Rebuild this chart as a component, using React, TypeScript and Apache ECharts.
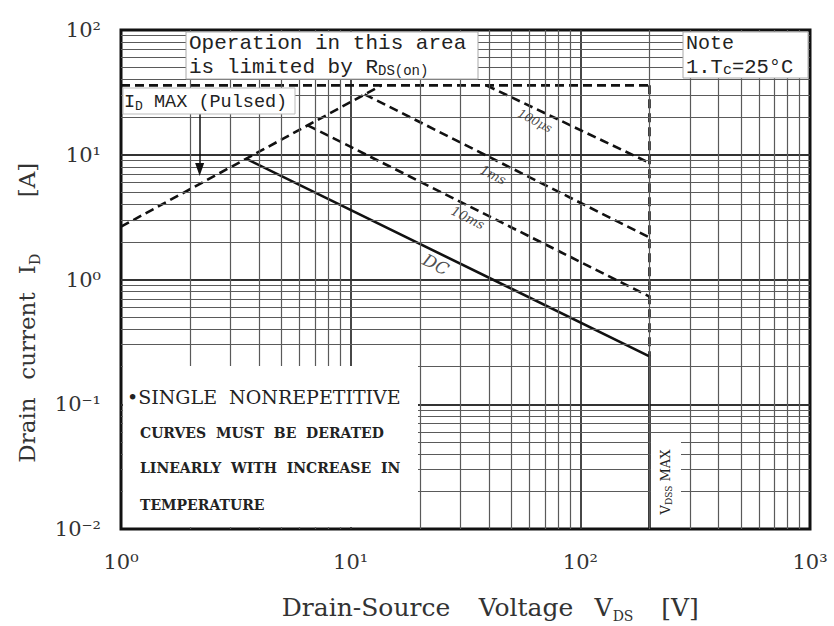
import React, { useEffect, useRef } from 'react';
import * as echarts from 'echarts';

// ---- axis ranges / ticks ----
const xRange = [1, 1000];
const yRange = [0.01, 100];
const xDecades = [1, 10, 100];
const yDecades = [0.01, 0.1, 1, 10];
const minorSteps = [2, 3, 4, 5, 6, 7, 8, 9];

// ---- SOA curves (VDS [V], ID [A]) ----
const rdsOnLimit = [[1, 2.65], [13.6, 36]];
const idMaxPulsed = [[1, 36], [200, 36]];
const vdssDashed = [[200, 36], [200, 0.242]];
const line100us = [[39, 36], [200, 8.6]];
const line1ms = [[11.5, 30.5], [200, 2.17]];
const line10ms = [[6.5, 17.2], [200, 0.73]];
const lineDC = [[3.5, 9.3], [200, 0.242], [200, 0.01]];

// ---- curve labels ----
const curveLabelNames = ['100μs', '1ms', '10ms', 'DC'];
const curveLabelPos = [[63.4, 18.7], [41.7, 6.9], [32.4, 3.13], [23.5, 1.32]];
const curveLabelSizes = [12, 13, 13, 17];

// ---- ID MAX (Pulsed) arrow ----
const arrowPoints = [[2.2, 21.7], [2.2, 7.6]];

const SUP: Record<string, string> = { '0': '⁰', '1': '¹', '2': '²', '3': '³', '-': '⁻' };
const fmtPow = (v: number) => {
  const e = Math.round(Math.log10(v));
  return '10' + String(e).split('').map((c) => SUP[c] || c).join('');
};

const minorValues = (decades: number[]) => {
  const out: number[] = [];
  decades.forEach((d) => minorSteps.forEach((m) => out.push(Number((m * d).toPrecision(3)))));
  return out;
};

const SERIF = '"DejaVu Serif", serif';
const MONO = '"Liberation Mono", monospace';
const NB = '\u00A0';

const word = (text: string, x: number, y: number, size: number, rot = 0, align = 'center') => ({
  type: 'text', z: 101, x, y, rotation: rot,
  style: { text, font: `${size}px ${SERIF}`, fill: '#333', align, verticalAlign: 'middle' },
});

const subWord = (main: string, sub: string, x: number, y: number, size: number, subSize: number, rot = 0) => ({
  type: 'text', z: 101, x, y, rotation: rot,
  style: {
    text: `{m|${main}}{s|${sub}}`,
    align: 'center', verticalAlign: 'middle',
    rich: {
      m: { fontFamily: SERIF, fontSize: size, fill: '#333', lineHeight: size + 6 },
      s: { fontFamily: SERIF, fontSize: subSize, fill: '#333', lineHeight: size + 6, verticalAlign: 'bottom' },
    },
  },
});

export default function App() {
  const ref = useRef<HTMLDivElement>(null);
  useEffect(() => {
    if (!ref.current) return;
    const chart = echarts.init(ref.current, null, { renderer: 'svg' });
    const dashed = (data: number[][]) => ({
      type: 'line',
      data,
      symbol: 'none',
      silent: true,
      z: 3,
      lineStyle: { color: '#111', width: 2.6, type: [9, 5] },
    });
    const option: any = {
      animation: false,
      backgroundColor: '#fff',
      grid: {
        left: 121,
        top: 30,
        right: 24,
        bottom: 97,
        show: true,
        borderColor: '#111',
        borderWidth: 3,
        backgroundColor: '#fff',
        containLabel: false,
      },
      xAxis: {
        type: 'log',
        logBase: 10,
        min: xRange[0],
        max: xRange[1],
        axisLine: { show: false },
        axisTick: { show: false },
        axisLabel: {
          margin: 22,
          formatter: fmtPow,
          fontFamily: SERIF,
          fontSize: 21,
          color: '#333',
          showMinLabel: true,
          showMaxLabel: true,
        },
        splitLine: { show: true, showMinLine: false, showMaxLine: false, lineStyle: { color: '#333', width: 1.8 } },
      },
      yAxis: {
        type: 'log',
        logBase: 10,
        min: yRange[0],
        max: yRange[1],
        axisLine: { show: false },
        axisTick: { show: false },
        axisLabel: {
          margin: 20,
          formatter: fmtPow,
          fontFamily: SERIF,
          fontSize: 21,
          color: '#333',
          showMinLabel: true,
          showMaxLabel: true,
        },
        splitLine: { show: true, showMinLine: false, showMaxLine: false, lineStyle: { color: '#333', width: 1.8 } },
      },
      series: [
        {
          type: 'line',
          data: [[1, 0.01]],
          symbol: 'none',
          silent: true,
          z: 1,
          lineStyle: { width: 0 },
          markLine: {
            silent: true,
            symbol: ['none', 'none'],
            label: { show: false },
            emphasis: { disabled: true },
            lineStyle: { color: '#5a5a5a', width: 1.2, type: 'solid' },
            data: [
              ...minorValues(xDecades).map((v) => ({ xAxis: v })),
              ...minorValues(yDecades).map((v) => ({ yAxis: v })),
            ],
          },
        },
        dashed(rdsOnLimit),
        dashed(idMaxPulsed),
        dashed(vdssDashed),
        dashed(line100us),
        dashed(line1ms),
        dashed(line10ms),
        {
          type: 'line',
          data: lineDC,
          symbol: 'none',
          silent: true,
          z: 3,
          lineStyle: { color: '#111', width: 2.6, type: 'solid' },
        },
        {
          type: 'line',
          data: [[1, 0.01]],
          symbol: 'none',
          silent: true,
          z: 4,
          lineStyle: { width: 0 },
          markLine: {
            silent: true,
            symbol: ['none', 'triangle'],
            symbolSize: [9, 13],
            label: { show: false },
            emphasis: { disabled: true },
            lineStyle: { color: '#111', width: 1.5, type: 'solid' },
            data: [[{ coord: arrowPoints[0] }, { coord: arrowPoints[1] }]],
          },
        },
        {
          type: 'scatter',
          silent: true,
          z: 5,
          symbolSize: 0.1,
          itemStyle: { color: 'transparent' },
          label: {
            show: true,
            position: 'inside',
            formatter: '{b}',
            rotate: -27,
            fontStyle: 'italic',
            fontFamily: SERIF,
            color: '#222',
          },
          data: curveLabelNames.map((n, i) => ({
            name: n,
            value: curveLabelPos[i],
            label: { fontSize: curveLabelSizes[i] },
          })),
        },
      ],
      graphic: [
        // top RDS(on) note box
        { type: 'rect', z: 100, shape: { x: 186, y: 32, width: 292, height: 47 }, style: { fill: '#fff', stroke: '#aaa', lineWidth: 1 } },
        {
          type: 'text', z: 101, x: 189, y: 43,
          style: { text: 'Operation in this area', font: `21px ${MONO}`, fill: '#222', align: 'left', verticalAlign: 'middle' },
        },
        {
          type: 'text', z: 101, x: 189, y: 67,
          style: {
            text: '{m|is limited by R}{s|DS(on)}',
            fill: '#222', align: 'left', verticalAlign: 'middle',
            rich: {
              m: { fontFamily: MONO, fontSize: 21, fill: '#222', lineHeight: 22 },
              s: { fontFamily: MONO, fontSize: 14, fill: '#222', lineHeight: 22, verticalAlign: 'bottom' },
            },
          },
        },
        // Note box
        { type: 'rect', z: 100, shape: { x: 683, y: 32, width: 125, height: 46 }, style: { fill: '#fff', stroke: '#aaa', lineWidth: 1 } },
        {
          type: 'text', z: 101, x: 686, y: 43,
          style: { text: 'Note', font: `20px ${MONO}`, fill: '#222', align: 'left', verticalAlign: 'middle' },
        },
        {
          type: 'text', z: 101, x: 686, y: 67,
          style: {
            text: '{m|1.T}{s|c}{m|=25°C}',
            align: 'left', verticalAlign: 'middle',
            rich: {
              m: { fontFamily: MONO, fontSize: 20.5, fill: '#222', lineHeight: 22 },
              s: { fontFamily: MONO, fontSize: 15, fill: '#222', lineHeight: 22, verticalAlign: 'bottom' },
            },
          },
        },
        // ID MAX (Pulsed) box
        { type: 'rect', z: 100, shape: { x: 123, y: 88, width: 172, height: 26 }, style: { fill: '#fff', stroke: '#bbb', lineWidth: 1 } },
        {
          type: 'text', z: 101, x: 124, y: 102,
          style: {
            text: '{m|I}{s|D}{m| MAX (Pulsed)}',
            align: 'left', verticalAlign: 'middle',
            rich: {
              m: { fontFamily: MONO, fontSize: 18.5, fill: '#222', lineHeight: 22 },
              s: { fontFamily: MONO, fontSize: 13, fill: '#222', lineHeight: 22, verticalAlign: 'bottom' },
            },
          },
        },
        // lower-left derating note box
        { type: 'rect', z: 100, shape: { x: 123, y: 366, width: 295, height: 161 }, style: { fill: '#fff' } },
        {
          type: 'text', z: 101, x: 127, y: 397,
          style: { text: `•SINGLE${NB}${NB}NONREPETITIVE`, font: `19px ${SERIF}`, fill: '#222', align: 'left', verticalAlign: 'middle' },
        },
        {
          type: 'text', z: 101, x: 140, y: 433,
          style: { text: `CURVES${NB}${NB}MUST${NB}${NB}BE${NB}${NB}DERATED`, font: `bold 14px ${SERIF}`, fill: '#222', align: 'left', verticalAlign: 'middle' },
        },
        {
          type: 'text', z: 101, x: 140, y: 468,
          style: { text: `LINEARLY${NB}${NB}WITH${NB}${NB}INCREASE${NB}${NB}IN`, font: `bold 14px ${SERIF}`, fill: '#222', align: 'left', verticalAlign: 'middle' },
        },
        {
          type: 'text', z: 101, x: 140, y: 505,
          style: { text: 'TEMPERATURE', font: `bold 14px ${SERIF}`, fill: '#222', align: 'left', verticalAlign: 'middle' },
        },
        // VDSS MAX label
        { type: 'rect', z: 100, shape: { x: 651, y: 434, width: 30, height: 93 }, style: { fill: '#fff' } },
        {
          type: 'text', z: 101, x: 665, y: 482, rotation: Math.PI / 2,
          style: {
            text: `{m|V}{s|DSS}{m|${NB}MAX}`,
            align: 'center', verticalAlign: 'middle',
            rich: {
              m: { fontFamily: SERIF, fontSize: 13, fill: '#222', lineHeight: 16 },
              s: { fontFamily: SERIF, fontSize: 9, fill: '#222', lineHeight: 16, verticalAlign: 'bottom' },
            },
          },
        },
        // x axis title
        word('Drain-Source', 366, 607, 25),
        word('Voltage', 526, 607, 25),
        subWord('V', 'DS', 614, 607, 25, 14),
        word('[V]', 680, 607, 25),
        // y axis title (reads bottom to top)
        word('Drain', 27, 430, 23, Math.PI / 2),
        word('current', 27, 336, 23, Math.PI / 2),
        subWord('I', 'D', 27, 264, 23, 14, Math.PI / 2),
        word('[A]', 27, 180, 23, Math.PI / 2),
      ],
    };
    chart.setOption(option);
    return () => chart.dispose();
  }, []);
  return (
    <div
      ref={ref}
      style={{ position: 'absolute', left: 0, top: 0, width: 834, height: 626, background: '#fff' }}
    />
  );
}
